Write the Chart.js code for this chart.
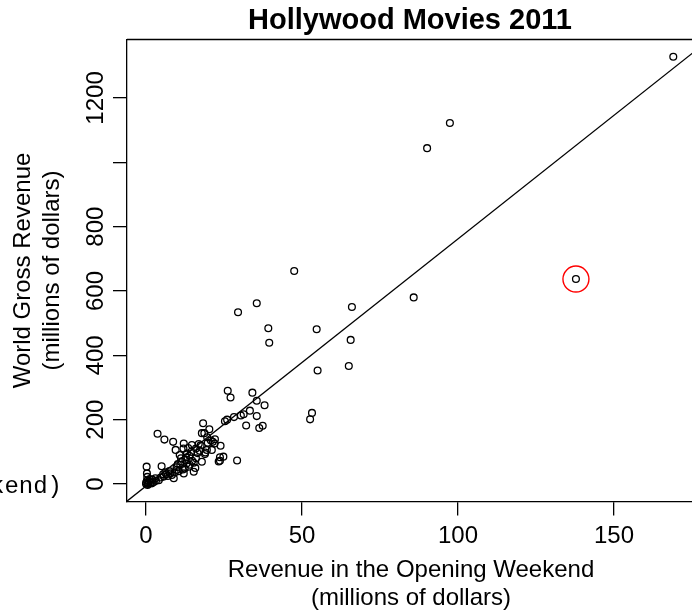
<!DOCTYPE html>
<html>
<head>
<meta charset="utf-8">
<script src="https://cdn.jsdelivr.net/npm/chart.js@4.4.0/dist/chart.umd.min.js"></script>
<style>
	html, body { margin: 0; padding: 0; background: #fff; overflow: hidden; }
	#wrap { width: 692px; height: 613px; }
</style>
</head>
<body>
<div id="wrap"><canvas id="moviesChart" width="692" height="613"></canvas></div>
<script>
	// opening weekend vs world gross, millions of dollars
	const openingWeekend = [
		169.0, 97.4, 90.1, 47.5, 29.5, 35.5, 39.2, 39.5, 54.7, 66.0, 65.6, 55.0, 65.0, 85.8, 137.8,
		26.2, 27.1, 34.1, 35.5, 38.0, 53.2, 52.6, 25.3, 26.0, 28.2, 30.4, 31.3, 33.3, 35.5, 32.1, 36.3, 37.4, 29.2,
		18.3, 20.3, 17.9, 18.7, 19.6, 22.1, 21.4, 22.0, 23.9, 21.1, 19.5, 19.0, 18.9, 24.8, 23.7, 23.7, 23.3, 17.9,
		16.9, 16.0, 17.2, 17.5, 19.8, 20.8,
		3.7, 5.9, 8.7, 9.5, 12.1, 14.7, 0.2, 5.0, 0.3, 10.8, 13.1, 12.6, 15.3, 13.7, 11.0, 9.9, 7.8, 5.7, 4.1,
		1.9, 0.5, 8.9, 15.3, 12.1, 10.2, 11.5, 12.8, 13.9, 14.5, 16.5, 14.0, 12.4, 10.5, 9.2, 8.3, 7.0, 6.5,
		11.8, 13.0, 16.0, 14.8, 15.8, 0.1, 0.3, 0.6, 1.0, 1.2, 0.4, 0.8, 2.5, 3.2, 2.0, 0.0, 1.5, 5.5, 6.2,
		7.5, 4.7, 3.0, 9.8, 11.2, 12.0, 13.5
	];
	const worldGross = [
		1328, 1122, 1044, 662, 534, 562, 484, 439, 481, 550, 448, 353, 367, 580, 637,
		290, 269, 284, 259, 245, 221, 201, 195, 200, 208, 213, 217, 228, 211, 182, 174, 181, 73,
		189, 170, 158, 158, 145, 139, 131, 126, 119, 106, 106, 98, 93, 85, 83, 72, 70, 69,
		124, 110, 103, 120, 128, 135,
		156, 138, 131, 106, 126, 121, 54, 55, 33, 90, 95, 75, 66, 54, 59, 44, 33, 23, 12,
		2, -3, 18, 38, 33, 62, 70, 82, 88, 100, 96, 60, 48, 40, 36, 28, 25, 30,
		45, 64, 80, 72, 50, 5, 10, 2, 8, 15, 22, 0, 6, 10, 14, 1, 4, 30, 36,
		40, 20, 18, 52, 80, 110, 112
	];

	// circled outlier
	const highlightX = [137.8];
	const highlightY = [637];

	// least squares line, end points
	const fitX = [-7, 176];
	const fitY = [-60, 1346];

	const xTicks = [0, 50, 100, 150];
	const xTickLabels = ['0', '50', '100', '150'];
	const yTicks = [0, 200, 400, 600, 800, 1000, 1200];
	const yTickLabels = ['0', '200', '400', '600', '800', '', '1200'];

	const sansFont = '"Liberation Sans", Arial, Helvetica, sans-serif';
	const monoFont = '"Liberation Mono", "Courier New", monospace';

	const basePlotText = {
		id: 'basePlotText',
		afterDraw(chart) {
			const { ctx, chartArea, scales } = chart;
			const xMid = 411;

			ctx.save();
			ctx.fillStyle = '#000';
			ctx.strokeStyle = '#000';
			ctx.lineWidth = 1.3;

			// top edge of the box (right edge sits off the canvas)
			ctx.beginPath();
			ctx.moveTo(chartArea.left, chartArea.top);
			ctx.lineTo(chartArea.right + 5, chartArea.top);
			ctx.stroke();

			ctx.font = 'bold 29px ' + sansFont;
			ctx.textAlign = 'center';
			ctx.textBaseline = 'middle';
			ctx.fillText('Hollywood Movies 2011', 410, 21);

			ctx.font = '24px ' + sansFont;
			xTicks.forEach((value, i) => {
				ctx.fillText(xTickLabels[i], scales.x.getPixelForValue(value), 536);
			});
			yTicks.forEach((value, i) => {
				if (!yTickLabels[i]) {
					return;
				}
				ctx.save();
				ctx.translate(96, scales.y.getPixelForValue(value));
				ctx.rotate(-Math.PI / 2);
				ctx.fillText(yTickLabels[i], 0, 0);
				ctx.restore();
			});

			ctx.fillText('Revenue in the Opening Weekend', xMid, 570);
			ctx.fillText('(millions of dollars)', xMid, 598);

			const yMid = (chartArea.top + chartArea.bottom) / 2;
			ctx.save();
			ctx.translate(23, yMid);
			ctx.rotate(-Math.PI / 2);
			ctx.fillText('World Gross Revenue', 0, 0);
			ctx.restore();
			ctx.save();
			ctx.translate(52, yMid);
			ctx.rotate(-Math.PI / 2);
			ctx.fillText('(millions of dollars)', 0, 0);
			ctx.restore();

			// leftover label clipped at the left margin
			ctx.font = '24px ' + monoFont;
			ctx.textAlign = 'right';
			ctx.fillText('kend)', 62, 487);

			ctx.restore();
		}
	};

	const axisStyle = {
		grid: {
			drawOnChartArea: false,
			drawTicks: true,
			tickLength: 14,
			color: '#000',
			lineWidth: 1.3
		},
		border: {
			display: true,
			color: '#000',
			width: 1.3
		},
		ticks: {
			display: false
		}
	};

	new Chart(document.getElementById('moviesChart'), {
		type: 'scatter',
		data: {
			datasets: [
				{
					label: 'Movies',
					data: openingWeekend.map((x, i) => ({ x: x, y: worldGross[i] })),
					pointRadius: 3.4,
					pointBorderWidth: 1.3,
					borderColor: '#000',
					backgroundColor: 'rgba(0,0,0,0)'
				},
				{
					label: 'Fit',
					data: fitX.map((x, i) => ({ x: x, y: fitY[i] })),
					showLine: true,
					borderColor: '#000',
					borderWidth: 1.3,
					pointRadius: 0
				},
				{
					label: 'Outlier',
					data: highlightX.map((x, i) => ({ x: x, y: highlightY[i] })),
					pointRadius: 13,
					pointBorderWidth: 1.4,
					borderColor: '#ff0000',
					backgroundColor: 'rgba(0,0,0,0)'
				}
			]
		},
		options: {
			responsive: false,
			devicePixelRatio: 1,
			animation: false,
			layout: {
				autoPadding: false,
				padding: { top: 39.5, left: 0, right: 0, bottom: 0 }
			},
			plugins: {
				legend: { display: false },
				tooltip: { enabled: false },
				title: { display: false }
			},
			scales: {
				x: {
					type: 'linear',
					min: -6.09,
					max: 175,
					afterBuildTicks: (scale) => { scale.ticks = xTicks.map((v) => ({ value: v })); },
					afterFit: (scale) => { scale.height = 111.5; },
					...axisStyle
				},
				y: {
					type: 'linear',
					min: -54.4,
					max: 1381.7,
					afterBuildTicks: (scale) => { scale.ticks = yTicks.map((v) => ({ value: v })); },
					afterFit: (scale) => { scale.width = 127; },
					...axisStyle
				}
			}
		},
		plugins: [basePlotText]
	});
</script>
</body>
</html>
